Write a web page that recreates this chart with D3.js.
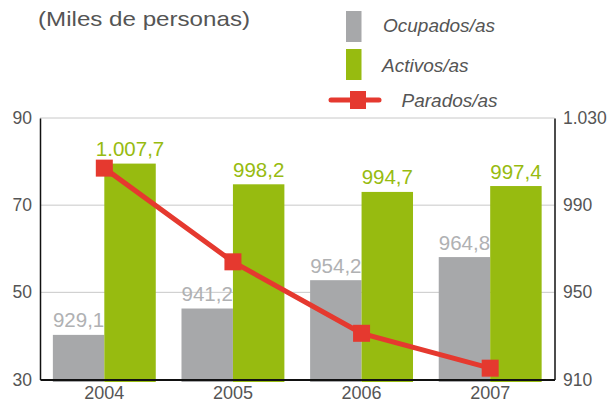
<!DOCTYPE html>
<html>
<head>
<meta charset="utf-8">
<script src="https://cdn.jsdelivr.net/npm/d3@7/dist/d3.min.js"></script>
<style>
  html, body { margin: 0; padding: 0; background: #fff; }
  svg { display: block; font-family: "Liberation Sans", Arial, sans-serif; }
</style>
</head>
<body>
<svg id="chart" width="609" height="403"></svg>
<script>
// Population in thousands
const years = ["2004", "2005", "2006", "2007"];
const ocupados = [929.1, 941.2, 954.2, 964.8];
const activos = [1007.7, 998.2, 994.7, 997.4];
const parados = [78.5, 57.0, 40.6, 32.6];
const leftTicks = [30, 50, 70, 90];
const rightTicks = [910, 950, 990, 1030];

const fmt = d3.formatLocale({ decimal: ",", thousands: ".", grouping: [3], currency: ["", "€"] });
const fmt1 = fmt.format(",.1f");
const fmt0 = fmt.format(",.0f");

const colGray = "#a7a8aa", colGreen = "#97bb10", colRed = "#e5392f", colText = "#555";

const svg = d3.select("#chart");
const m = { left: 40, right: 54.5, top: 118, bottom: 23.5 };
const W = 609, H = 403;
const x0 = m.left, x1 = W - m.right, yTop = m.top, yBot = H - m.bottom;

const x = d3.scaleBand().domain(years).range([x0, x1]).paddingInner(0.2).paddingOuter(0.1);
const xs = d3.scaleBand().domain(["o", "a"]).range([0, x.bandwidth()]);
const yL = d3.scaleLinear().domain([30, 90]).range([yBot, yTop]);
const yR = d3.scaleLinear().domain([910, 1030]).range([yBot, yTop]);
// bars sit slightly above the right-axis grid and run just past the baseline
const yBar = d3.scaleLinear().domain([910, 1030]).range([yBot - 3, yTop - 3]);
const barBase = yBot + 2.5;

// gridlines
svg.append("g").selectAll("line").data(leftTicks.slice(1)).join("line")
  .attr("x1", x0).attr("x2", x1)
  .attr("y1", d => yL(d)).attr("y2", d => yL(d))
  .attr("stroke", "#c8c8c8").attr("stroke-width", 1);

// bars
const g = svg.append("g").selectAll("g").data(years).join("g")
  .attr("transform", d => `translate(${x(d)},0)`);
g.append("rect")
  .attr("x", xs("o")).attr("width", xs.bandwidth())
  .attr("y", (d, i) => yBar(ocupados[i])).attr("height", (d, i) => barBase - yBar(ocupados[i]))
  .attr("fill", colGray);
g.append("rect")
  .attr("x", xs("a")).attr("width", xs.bandwidth())
  .attr("y", (d, i) => yBar(activos[i])).attr("height", (d, i) => barBase - yBar(activos[i]))
  .attr("fill", colGreen);
g.append("text")
  .attr("x", xs("o") + xs.bandwidth() / 2).attr("y", (d, i) => yBar(ocupados[i]) - 7.5)
  .attr("text-anchor", "middle").attr("font-size", 20.5).attr("fill", "#b0b1b3")
  .text((d, i) => fmt1(ocupados[i]));
g.append("text")
  .attr("x", xs("a") + xs.bandwidth() / 2).attr("y", (d, i) => yBar(activos[i]) - 7.5)
  .attr("text-anchor", "middle").attr("font-size", 20.5).attr("fill", colGreen)
  .text((d, i) => fmt1(activos[i]));

// axes
const axL = svg.append("g").attr("transform", `translate(${x0},0)`)
  .call(d3.axisLeft(yL).tickValues(leftTicks).tickSize(0).tickPadding(8));
const axR = svg.append("g").attr("transform", `translate(${x1},0)`)
  .call(d3.axisRight(yR).tickValues(rightTicks).tickFormat(fmt0).tickSize(0).tickPadding(8.5));
const axB = svg.append("g").attr("transform", `translate(0,${yBot})`)
  .call(d3.axisBottom(x).tickSize(0).tickPadding(6.5));
[axL, axR].forEach(a => {
  a.select(".domain").attr("stroke", "#111").attr("stroke-width", 1.5);
  a.selectAll("text").attr("font-size", 17.5).attr("fill", colText)
    .attr("font-family", "Liberation Sans, Arial, sans-serif");
});
axB.select(".domain").attr("stroke", "#111").attr("stroke-width", 2);
axB.selectAll("text").attr("font-size", 18).attr("fill", colText)
  .attr("font-family", "Liberation Sans, Arial, sans-serif");

// Parados line
const cx = d => x(d) + x.bandwidth() / 2;
svg.append("path")
  .datum(years)
  .attr("d", d3.line().x(cx).y((d, i) => yL(parados[i])))
  .attr("fill", "none").attr("stroke", colRed).attr("stroke-width", 5);
svg.append("g").selectAll("rect").data(years).join("rect")
  .attr("x", d => cx(d) - 8.5).attr("y", (d, i) => yL(parados[i]) - 8.5)
  .attr("width", 17).attr("height", 17).attr("fill", colRed);

// title
svg.append("text").attr("x", 38).attr("y", 26)
  .attr("font-size", 21).attr("fill", colText)
  .attr("textLength", 212).attr("lengthAdjust", "spacingAndGlyphs")
  .text("(Miles de personas)");

// legend
const lg = svg.append("g");
lg.append("rect").attr("x", 346).attr("y", 11).attr("width", 15.5).attr("height", 31).attr("fill", colGray);
lg.append("rect").attr("x", 346).attr("y", 49).attr("width", 15.5).attr("height", 31).attr("fill", colGreen);
lg.append("line").attr("x1", 331).attr("x2", 379).attr("y1", 100).attr("y2", 100)
  .attr("stroke", colRed).attr("stroke-width", 5).attr("stroke-linecap", "round");
lg.append("rect").attr("x", 350).attr("y", 91).attr("width", 16).attr("height", 18).attr("fill", colRed);
const legTxt = [["Ocupados/as", 383, 32], ["Activos/as", 382, 71.5], ["Parados/as", 401.5, 106.5]];
lg.selectAll("text").data(legTxt).join("text")
  .attr("x", d => d[1]).attr("y", d => d[2])
  .attr("font-size", 19).attr("font-style", "italic").attr("fill", colText)
  .text(d => d[0]);
</script>
</body>
</html>
